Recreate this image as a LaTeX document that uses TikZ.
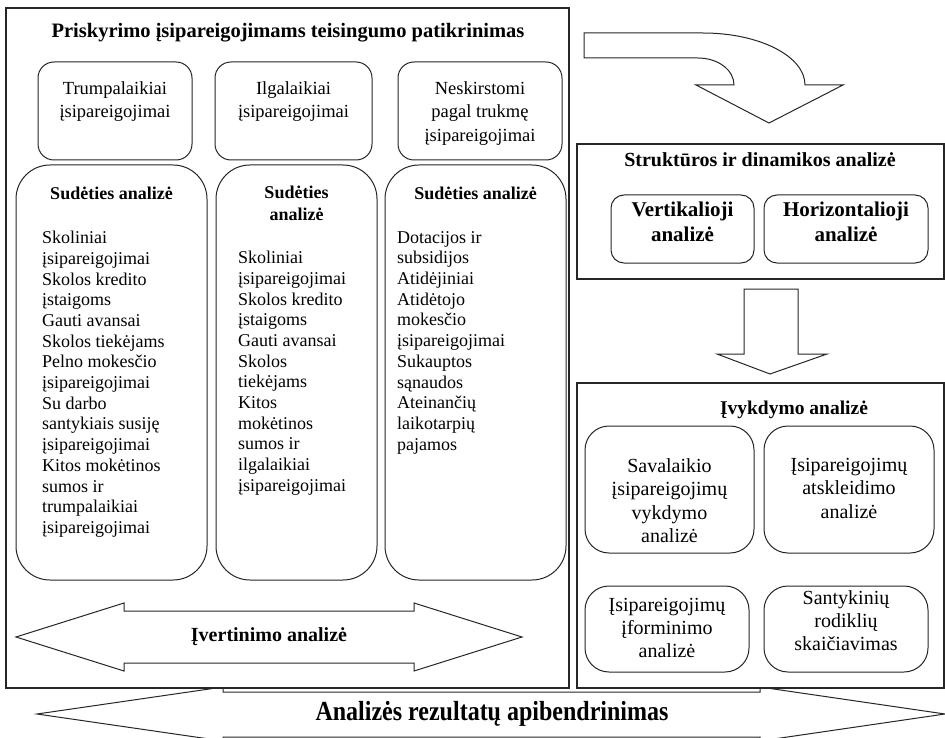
\documentclass[tikz,border=0pt]{standalone}
\usepackage{fontspec}
\setmainfont{Liberation Serif}
\tikzset{
  frame/.style={draw=black!85, line width=1.1pt, fill=white},
  rbox/.style={draw=black!85, line width=1pt, fill=white, rounded corners=#1},
  blockarrow/.style={draw=black!85, line width=1pt, fill=white, line join=miter},
  boxtext/.style={inner sep=0pt, align=center, anchor=north, execute at begin node=\strut},
  listtext/.style={inner sep=0pt, align=left, anchor=north west, font=\fontsize{18}{20.7}\selectfont, execute at begin node=\strut},
  headtext/.style={inner sep=0pt, align=center, font=\bfseries\fontsize{18}{22}\selectfont},
}
\begin{document}
\begin{tikzpicture}[x=1pt,y=-1pt]
\useasboundingbox (0,0) rectangle (945,738);
\clip (0,0) rectangle (945,738);
% wide arrow at the bottom, partly under the frames
\draw[blockarrow] (37,714) -- (223,687) -- (223,692) -- (760,692) -- (760,687) -- (945,714)
      -- (760,741) -- (760,737) -- (223,737) -- (223,741) -- cycle;
\node[headtext, font=\bfseries\fontsize{24}{28}\selectfont] (rezult) at (492,714) {\scalebox{1}[1.15]{Analizės rezultatų apibendrinimas}};

% left frame
\draw[frame] (6,8) rectangle (569,688);
\node[headtext, font=\bfseries\fontsize{20.5}{24}\selectfont] (prisk) at (288,33) {Priskyrimo įsipareigojimams teisingumo patikrinimas};
\draw[rbox=16pt] (38,62) rectangle (192,160);
\draw[rbox=16pt] (215,62) rectangle (372,160);
\draw[rbox=16pt] (398,62) rectangle (562,160);
\node[boxtext, font=\fontsize{18.5}{23.5}\selectfont] (trump) at (115,81) {Trumpalaikiai\\įsipareigojimai};
\node[boxtext, font=\fontsize{18.5}{23.5}\selectfont] (ilgal) at (293.5,81) {Ilgalaikiai\\įsipareigojimai};
\node[boxtext, font=\fontsize{18.5}{23.5}\selectfont] (neskirst) at (480,81) {Neskirstomi\\pagal trukmę\\įsipareigojimai};

\draw[rbox=34pt] (16,165) rectangle (207,580);
\draw[rbox=34pt] (216,165) rectangle (377,580);
\draw[rbox=34pt] (385,165) rectangle (566,580);
\node[headtext] (sud1) at (111.5,193) {Sudėties analizė};
\node[headtext, anchor=north, execute at begin node=\strut] (sud2) at (296.5,185.6) {Sudėties\\analizė};
\node[headtext] (sud3) at (475.5,193) {Sudėties analizė};
\node[listtext] (trumpal) at (42,231) {Skoliniai\\įsipareigojimai\\Skolos kredito\\įstaigoms\\Gauti avansai\\Skolos tiekėjams\\Pelno mokesčio\\įsipareigojimai\\Su darbo\\santykiais susiję\\įsipareigojimai\\Kitos mokėtinos\\sumos ir\\trumpalaikiai\\įsipareigojimai};
\node[listtext] (ilgalis) at (238,251) {Skoliniai\\įsipareigojimai\\Skolos kredito\\įstaigoms\\Gauti avansai\\Skolos\\tiekėjams\\Kitos\\mokėtinos\\sumos ir\\ilgalaikiai\\įsipareigojimai};
\node[listtext] (neskl) at (397,231) {Dotacijos ir\\subsidijos\\Atidėjiniai\\Atidėtojo\\mokesčio\\įsipareigojimai\\Sukauptos\\sąnaudos\\Ateinančių\\laikotarpių\\pajamos};

\draw[blockarrow] (16,637) -- (124,603) -- (124,611) -- (414,611) -- (414,603) -- (522,637)
      -- (414,671) -- (414,663) -- (124,663) -- (124,671) -- cycle;
\node[headtext, font=\bfseries\fontsize{20}{24}\selectfont] (ivert) at (269,637) {Įvertinimo analizė};

% curved arrow to the right column
\draw[blockarrow] (584,33) -- (703,33) .. controls (759,33) and (805,56) .. (805,85) -- (843,85) -- (769,123)
      -- (696,85) -- (734,85) .. controls (734,70) and (718,58) .. (698,58) -- (584,58) -- cycle;

% structure and dynamics
\draw[frame] (577,144) rectangle (944,279);
\node[headtext, font=\bfseries\fontsize{20}{24}\selectfont] (strukt) at (760,160) {Struktūros ir dinamikos analizė};
\draw[rbox=13pt] (611,195) rectangle (754,263);
\draw[rbox=13pt] (764,195) rectangle (928,263);
\node[headtext, anchor=north, font=\bfseries\fontsize{21}{25}\selectfont, execute at begin node=\strut] (vert) at (682.5,202) {Vertikalioji\\analizė};
\node[headtext, anchor=north, font=\bfseries\fontsize{21}{25}\selectfont, execute at begin node=\strut] (horiz) at (846,202) {Horizontalioji\\analizė};

\draw[blockarrow] (744,289) -- (798,289) -- (798,354) -- (827,354) -- (770,374) -- (717,354) -- (744,354) -- cycle;

% fulfilment
\draw[frame] (577,383) rectangle (944,688);
\node[headtext, font=\bfseries\fontsize{19.5}{23}\selectfont] (ivykd) at (794,410) {Įvykdymo analizė};
\draw[rbox=24pt] (585,426) rectangle (754,553);
\draw[rbox=24pt] (764,426) rectangle (934,553);
\draw[rbox=24pt] (585,586) rectangle (749,672);
\draw[rbox=24pt] (764,586) rectangle (928,672);
\node[boxtext, font=\fontsize{20}{23.5}\selectfont] (saval) at (669.5,458) {Savalaikio\\įsipareigojimų\\vykdymo\\analizė};
\node[boxtext, font=\fontsize{20}{23.5}\selectfont] (atskl) at (849,458) {Įsipareigojimų\\atskleidimo\\analizė};
\node[boxtext, font=\fontsize{20}{23}\selectfont] (iform) at (667,598.5) {Įsipareigojimų\\įforminimo\\analizė};
\node[boxtext, font=\fontsize{20}{23}\selectfont] (santyk) at (846,590.5) {Santykinių\\rodiklių\\skaičiavimas};
\end{tikzpicture}
\end{document}
